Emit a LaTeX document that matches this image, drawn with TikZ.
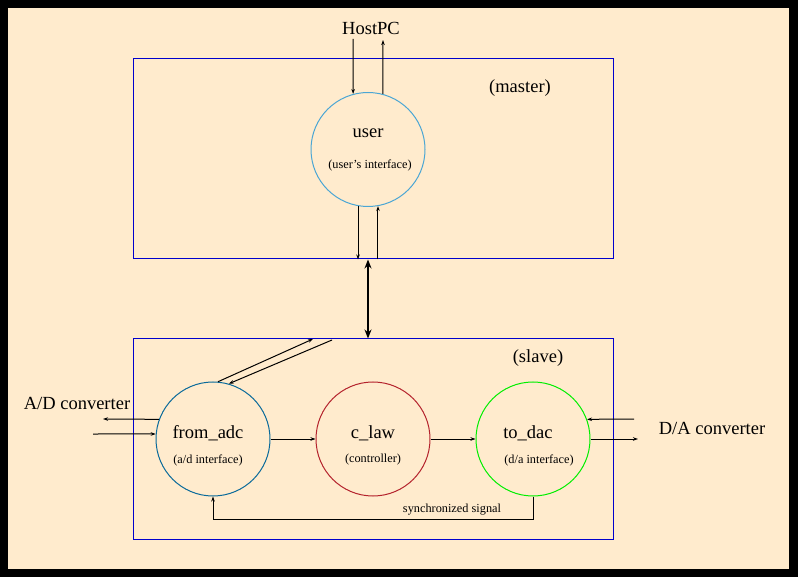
\documentclass[tikz,border=0pt]{standalone}
\usepackage{fontspec}
\setmainfont{Liberation Serif}
\usetikzlibrary{arrows.meta}
\definecolor{bgbeige}{HTML}{FFEBCD}
\definecolor{boxblue}{HTML}{0000CD}
\definecolor{userblue}{HTML}{4BA6D4}
\definecolor{adcblue}{HTML}{0A6A9A}
\definecolor{lawred}{HTML}{B4232D}
\definecolor{dacgreen}{HTML}{00EE00}
\tikzset{
  bigtxt/.style={inner sep=0pt, font=\fontsize{18.5}{20}\selectfont},
  smalltxt/.style={inner sep=0pt, font=\fontsize{12.3}{14}\selectfont},
  bubble/.style={circle, draw, line width=1pt, minimum size=114pt, inner sep=0pt},
  panel/.style={rectangle, draw=boxblue, line width=1pt, minimum width=480pt, minimum height=200pt, inner sep=0pt},
  flow/.style={line width=1pt, -{Stealth[length=5pt,width=3.5pt]}},
  bigflow/.style={line width=2.2pt, {Stealth[length=9pt,width=7pt]}-{Stealth[length=9pt,width=7pt]}}
}
\begin{document}
\begin{tikzpicture}[x=1pt,y=-1pt]
\useasboundingbox (0,0) rectangle (798,577);
\fill[black] (0,0) rectangle (798,577);
\fill[bgbeige] (8,8) rectangle (789,569);

% panels
\node[panel] (master) at (373,159) {};
\node[panel] (slave) at (373,439) {};
\node[bigtxt] (mastertxt) at (520,88) {(master)};
\node[bigtxt] (slavetxt) at (538,358) {(slave)};

% bubbles
\node[bubble, draw=userblue] (user) at (368,149.5) {};
\node[bubble, draw=adcblue] (adc) at (213,439) {};
\node[bubble, draw=lawred] (law) at (373,439) {};
\node[bubble, draw=dacgreen] (dac) at (533,439) {};

\node[bigtxt] (usert) at (368,133) {user};
\node[smalltxt] (users) at (370,165) {(user's interface)};
\node[bigtxt] (adct) at (208,433) {from\_adc};
\node[smalltxt] (adcs) at (208,460) {(a/d interface)};
\node[bigtxt] (lawt) at (373,433) {c\_law};
\node[smalltxt] (laws) at (373,460) {(controller)};
\node[bigtxt] (dact) at (528,433) {to\_dac};
\node[smalltxt] (dacs) at (539,460) {(d/a interface)};

% external labels
\node[bigtxt] (host) at (371,28) {HostPC};
\node[bigtxt] (adconv) at (77,403) {A/D converter};
\node[bigtxt] (daconv) at (712,428) {D/A converter};
\node[smalltxt] (synct) at (452,510) {synchronized signal};

% free ends
\coordinate (hin) at (353,39);
\coordinate (hout) at (383,40);
\coordinate (adout) at (103,419);
\coordinate (adin) at (93,434);
\coordinate (daout) at (638,439);
\coordinate (dain) at (634,419);
\coordinate (diagA) at (313,339);
\coordinate (diagB) at (332,340);
\coordinate (syncc) at (533,519);

% HostPC
\draw[flow] (hin) -- (user.105);
\draw[flow] (user.75) -- (hout);
% user to master bottom
\draw[flow] (user.260) -- (user.260 |- master.south);
\draw[flow] (user.280 |- master.south) -- (user.280);
% master <-> slave
\draw[bigflow] (master.south -| user) -- (slave.north -| user);
% diagonals
\draw[flow] (adc.85) -- (diagA);
\draw[flow] (diagB) -- (adc.74);
% A/D
\draw[flow] (adc.160) -- (adout);
\draw[flow] (adin) -- (adc.175);
% chain
\draw[flow] (adc.east) -- (law.west);
\draw[flow] (law.east) -- (dac.west);
\draw[flow] (dac.east) -- (daout);
\draw[flow] (dain) -- (dac.20);
% sync
\draw[flow] (dac.south) -- (syncc) -| (adc.south);
\end{tikzpicture}
\end{document}
